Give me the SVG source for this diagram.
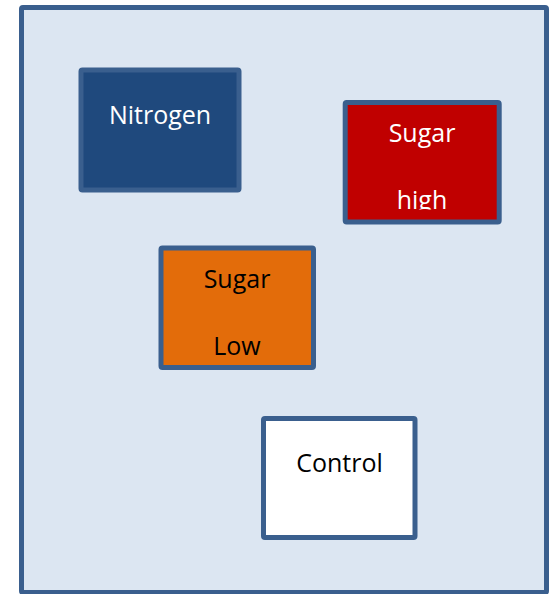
<svg xmlns="http://www.w3.org/2000/svg" width="549" height="594" viewBox="0 0 549 594">
  <style>
    .box { stroke: #3A5F8E; stroke-width: 5; stroke-linejoin: round; }
    .lbl { font-family: "Open Sans", "Liberation Sans", sans-serif; font-size: 25px; text-anchor: middle; }
    .w { fill: #FFFFFF; }
    .k { fill: #000000; }
  </style>
  <defs>
    <clipPath id="clipHigh">
      <rect x="347" y="105" width="150" height="104.5"/>
    </clipPath>
  </defs>
  <rect id="frame" x="21.5" y="7.5" width="525" height="585" fill="#DCE6F2" stroke="#3A5F8E" stroke-width="5" rx="1.5"/>
  <g id="connectors"/>
  <g id="nitrogen">
    <rect class="box" x="81" y="70" width="158" height="120" rx="1.5" fill="#1F497D"/>
    <text class="lbl w" x="160" y="124">Nitrogen</text>
  </g>
  <g id="sugar-high">
    <rect class="box" x="345.2" y="102.5" width="154" height="119.5" rx="1.5" fill="#C00000"/>
    <g clip-path="url(#clipHigh)">
      <text class="lbl w" x="422" y="142">Sugar</text>
      <text class="lbl w" x="422" y="209">high</text>
    </g>
  </g>
  <g id="sugar-low">
    <rect class="box" x="161" y="248" width="152.5" height="119.5" rx="1.5" fill="#E36C0A"/>
    <text class="lbl k" x="237" y="288">Sugar</text>
    <text class="lbl k" x="237" y="355">Low</text>
  </g>
  <g id="control">
    <rect class="box" x="263.5" y="418.5" width="151.5" height="119" rx="1.5" fill="#FFFFFF"/>
    <text class="lbl k" x="339.5" y="472">Control</text>
  </g>
</svg>
